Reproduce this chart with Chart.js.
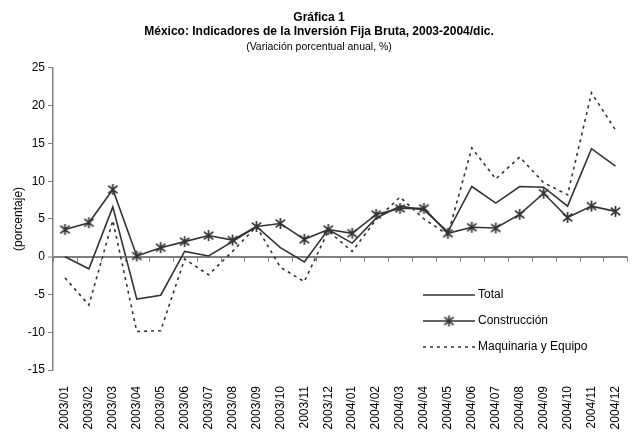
<!DOCTYPE html>
<html>
<head>
<meta charset="utf-8">
<script src="https://cdn.jsdelivr.net/npm/chart.js@4"></script>
<style>
  html, body { margin: 0; padding: 0; background: #fff; }
  #wrap { width: 638px; height: 434px; }
</style>
</head>
<body>
<div id="wrap"><canvas id="chart" width="638" height="434"></canvas></div>
<script>
const months = ['2003/01', '2003/02', '2003/03', '2003/04', '2003/05', '2003/06',
    '2003/07', '2003/08', '2003/09', '2003/10', '2003/11', '2003/12',
    '2004/01', '2004/02', '2004/03', '2004/04', '2004/05', '2004/06',
    '2004/07', '2004/08', '2004/09', '2004/10', '2004/11', '2004/12'];

const total = [0.0, -1.6, 6.6, -5.6, -5.1, 0.7, 0.1, 2.0, 4.0, 1.2, -0.7, 3.6,
    1.8, 5.1, 6.7, 6.2, 3.3, 9.3, 7.1, 9.3, 9.2, 6.7, 14.3, 12.0];
const construccion = [3.6, 4.5, 8.9, 0.1, 1.2, 2.0, 2.8, 2.2, 4.0, 4.4, 2.3, 3.6,
    3.1, 5.6, 6.4, 6.4, 3.1, 3.9, 3.8, 5.6, 8.4, 5.2, 6.7, 6.0];
const maquinaria = [-2.8, -6.4, 4.8, -9.9, -9.8, -0.3, -2.4, 0.7, 4.0, -1.4, -3.3, 3.4,
    0.7, 4.9, 7.9, 5.0, 2.9, 14.4, 10.3, 13.2, 9.8, 8.2, 21.7, 16.8];

const yTicks = [-15, -10, -5, 0, 5, 10, 15, 20, 25];

const lineColor = '#333333';
const axisColor = '#808080';
const font = "'Liberation Sans', Arial, sans-serif";

// asterisco como en Excel: X + línea vertical
function makeAsterisk(size) {
    const c = document.createElement('canvas');
    c.width = size; c.height = size;
    const g = c.getContext('2d');
    const m = size / 2, r = size / 2 - 1;
    g.strokeStyle = lineColor;
    g.lineWidth = 1.7;
    g.beginPath();
    g.moveTo(m, m - r); g.lineTo(m, m + r);
    g.moveTo(m - r * 0.85, m - r * 0.7); g.lineTo(m + r * 0.85, m + r * 0.7);
    g.moveTo(m - r * 0.85, m + r * 0.7); g.lineTo(m + r * 0.85, m - r * 0.7);
    g.stroke();
    return c;
}
const asterisk = makeAsterisk(13);

// eje en cero con marcas entre categorías + leyenda dentro del área
const zeroAxis = {
    id: 'zeroAxis',
    afterDatasetsDraw(chart) {
        const ctx = chart.ctx;
        const x = chart.scales.x, y = chart.scales.y;
        const y0 = y.getPixelForValue(0);
        ctx.save();
        ctx.strokeStyle = axisColor;
        ctx.lineWidth = 1;
        ctx.beginPath();
        for (let i = 0; i <= months.length; i++) {
            const px = Math.round(x.getPixelForValue(i - 0.5)) + 0.5;
            ctx.moveTo(px, y0);
            ctx.lineTo(px, y0 + 5);
        }
        ctx.stroke();

        // leyenda
        const items = [
            { label: 'Total', dash: [], marker: false },
            { label: 'Construcción', dash: [], marker: true },
            { label: 'Maquinaria y Equipo', dash: [3, 4], marker: false }
        ];
        const lx = 423, ly = 295, gap = 26;
        ctx.font = '12px ' + font;
        ctx.fillStyle = '#000';
        ctx.textBaseline = 'middle';
        items.forEach((it, i) => {
            const yy = ly + i * gap;
            ctx.strokeStyle = lineColor;
            ctx.lineWidth = 1.5;
            ctx.setLineDash(it.dash);
            ctx.beginPath();
            ctx.moveTo(lx, yy);
            ctx.lineTo(lx + 52, yy);
            ctx.stroke();
            ctx.setLineDash([]);
            if (it.marker) {
                ctx.drawImage(asterisk, lx + 26 - 6.5, yy - 6.5);
            }
            ctx.fillText(it.label, lx + 55, yy);
        });
        ctx.restore();
    }
};

const ctx = document.getElementById('chart').getContext('2d');
const myChart = new Chart(ctx, {
    type: 'line',
    data: {
        labels: months,
        datasets: [
            {
                label: 'Total',
                data: total,
                borderColor: lineColor,
                borderWidth: 1.6,
                pointRadius: 0,
                tension: 0
            },
            {
                label: 'Construcción',
                data: construccion,
                borderColor: lineColor,
                borderWidth: 1.6,
                pointStyle: asterisk,
                pointRadius: 6,
                tension: 0
            },
            {
                label: 'Maquinaria y Equipo',
                data: maquinaria,
                borderColor: lineColor,
                borderWidth: 1.6,
                borderDash: [3, 4],
                pointRadius: 0,
                tension: 0
            }
        ]
    },
    options: {
        responsive: false,
        animation: false,
        layout: { padding: { left: 0, right: 0, top: 0, bottom: 0 } },
        plugins: {
            legend: { display: false },
            tooltip: { enabled: false },
            title: {
                display: true,
                text: ['Gráfica 1', 'México: Indicadores de la Inversión Fija Bruta, 2003-2004/dic.'],
                color: '#000',
                font: { family: font, size: 12, weight: 'bold', lineHeight: 1.15 },
                padding: { top: 10.5, bottom: 2.5 }
            },
            subtitle: {
                display: true,
                text: '(Variación porcentual anual, %)',
                color: '#000',
                font: { family: font, size: 10.5, lineHeight: 1.2 },
                padding: { top: 0, bottom: 14.7 }
            }
        },
        scales: {
            x: {
                offset: true,
                grid: { display: false },
                border: { display: false },
                ticks: {
                    autoSkip: false,
                    minRotation: 90,
                    maxRotation: 90,
                    padding: 8,
                    color: '#000',
                    font: { family: font, size: 12 }
                },
                afterFit(scale) { scale.height = 64; }
            },
            y: {
                min: -15,
                max: 25,
                afterBuildTicks(scale) {
                    scale.ticks = yTicks.map(v => ({ value: v }));
                },
                grid: {
                    drawOnChartArea: true,
                    color: c => (c.tick && c.tick.value === 0) ? axisColor : 'rgba(0,0,0,0)',
                    lineWidth: c => (c.tick && c.tick.value === 0) ? 2 : 1,
                    tickColor: axisColor,
                    tickLength: 5,
                    tickWidth: 1
                },
                border: { display: true, color: axisColor, width: 1.5 },
                ticks: {
                    padding: 3,
                    color: '#000',
                    font: { family: font, size: 12 }
                },
                title: {
                    display: true,
                    text: '(porcentaje)',
                    color: '#000',
                    font: { family: font, size: 12 },
                    padding: { top: 11, bottom: 0 }
                },
                afterFit(scale) { scale.width = 53; }
            }
        }
    },
    plugins: [zeroAxis]
});
</script>
</body>
</html>
